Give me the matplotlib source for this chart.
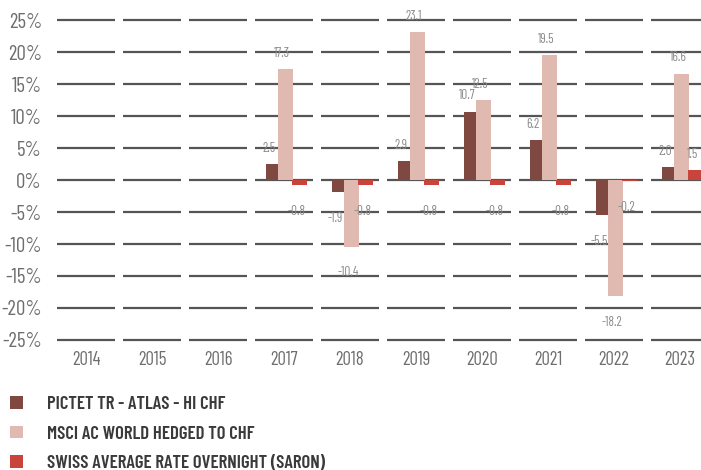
import numpy as np
import matplotlib
matplotlib.use("Agg")
import matplotlib.pyplot as plt
from matplotlib import font_manager
from matplotlib.patches import Patch

# pick a condensed face if one is around
available = {f.name for f in font_manager.fontManager.ttflist}
font = next((f for f in ["Barlow Condensed", "Roboto Condensed", "Open Sans Condensed"]
             if f in available), "DejaVu Sans")
plt.rcParams['font.family'] = [font, 'DejaVu Sans']

years = ["2014", "2015", "2016", "2017", "2018", "2019", "2020", "2021", "2022", "2023"]
pictet = [np.nan, np.nan, np.nan, 2.5, -1.9, 2.9, 10.7, 6.2, -5.5, 2.0]
msci = [np.nan, np.nan, np.nan, 17.3, -10.4, 23.1, 12.5, 19.5, -18.2, 16.6]
saron = [np.nan, np.nan, np.nan, -0.8, -0.8, -0.8, -0.8, -0.8, -0.2, 1.5]
yticks = [25, 20, 15, 10, 5, 0, -5, -10, -15, -20, -25]

names = ["PICTET TR - ATLAS - HI CHF", "MSCI AC WORLD HEDGED TO CHF",
         "SWISS AVERAGE RATE OVERNIGHT (SARON)"]
colors = ["#7f4840", "#e0bab0", "#c9453c"]
# (offset, width) of each series inside a category
slots = [(-0.18, 0.18), (0.02, 0.23), (0.235, 0.23)]

fig = plt.figure(figsize=(7.01, 4.70), dpi=100)
ax = fig.add_axes([53 / 701, 0.263, 648 / 701, 0.708])

x = np.arange(len(years))

# segmented grid: one short line per category
for yv in yticks:
    ax.hlines(np.full(len(x), yv), x - 0.44, x + 0.44, color="#555555", lw=1.6, zorder=1)

for vals, col, (off, w) in zip([pictet, msci, saron], colors, slots):
    ax.bar(x + off, vals, width=w, color=col, zorder=2)
    for xi, v in zip(x, vals):
        if np.isnan(v):
            continue
        ty = v + 2.5 if v >= 0 else v - 4.1
        ax.text(xi + off - 0.05, ty, f"{v:.1f}", ha="center", va="center",
                fontsize=9.5, color="#8a8a8a", zorder=3)

ax.set_xlim(-0.5, 9.318)
ax.set_ylim(-26, 26)
ax.set_yticks(yticks)
ax.set_yticklabels([f"{t}%" for t in yticks])
ax.set_xticks(x)
ax.set_xticklabels(years)
ax.tick_params(axis="y", length=0, pad=8, labelsize=15, labelcolor="#6e6e6e")
ax.tick_params(axis="x", length=0, pad=3, labelsize=13.5, labelcolor="#6e6e6e")
for s in ax.spines.values():
    s.set_visible(False)

handles = [Patch(facecolor=c, edgecolor="none") for c in colors]
leg = fig.legend(handles, names, loc="upper left", bbox_to_anchor=(-0.004, 0.185),
                 frameon=False, handlelength=0.65, handleheight=0.65,
                 handletextpad=1.3, labelspacing=0.66, borderaxespad=0.3,
                 prop={"weight": "semibold", "size": 13.5})
for t in leg.get_texts():
    t.set_color("#3a3a3a")

fig.savefig("out.png", dpi=100)
